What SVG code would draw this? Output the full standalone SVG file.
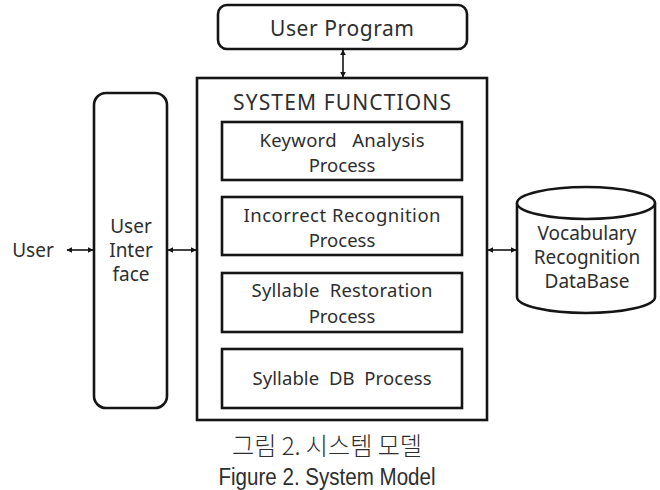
<svg xmlns="http://www.w3.org/2000/svg" width="660" height="490" viewBox="0 0 660 490">
<defs>
<style>
.box{fill:#fff;stroke:#151515;stroke-width:2.6}
.t{font-family:"Noto Sans","Liberation Sans",sans-serif;fill:#2e2e2e;text-anchor:middle;white-space:pre}
.c{stroke:#151515;stroke-width:1.6;fill:none;marker-start:url(#ah);marker-end:url(#ah)}
</style>
<marker id="ah" viewBox="0 0 10 10" refX="9" refY="5" markerWidth="6" markerHeight="6" orient="auto-start-reverse" markerUnits="userSpaceOnUse">
<path d="M0,0 L10,5 L0,10 z" fill="#151515"/>
</marker>
</defs>
<rect width="660" height="490" fill="#fff"/>

<g id="user">
<text class="t" x="33" y="257" font-size="19">User</text>
</g>

<g id="user-interface">
<rect class="box" x="94" y="93" width="73" height="315" rx="12"/>
<text class="t" x="131" y="233" font-size="19">User</text>
<text class="t" x="131" y="257" font-size="19">Inter</text>
<text class="t" x="131" y="281" font-size="19">face</text>
</g>

<g id="user-program">
<rect class="box" x="218" y="5" width="249" height="44" rx="9"/>
<text class="t" x="342" y="36" font-size="21" textLength="144">User Program</text>
</g>

<g id="system-functions">
<rect class="box" x="197" y="78" width="290" height="342"/>
<text class="t" x="342" y="110" font-size="21" textLength="218">SYSTEM FUNCTIONS</text>
</g>

<g id="keyword-analysis">
<rect class="box" x="222" y="122" width="240" height="58"/>
<text class="t" x="342" y="147" font-size="18.5" textLength="165" xml:space="preserve">Keyword   Analysis</text>
<text class="t" x="342" y="172" font-size="18.5">Process</text>
</g>

<g id="incorrect-recognition">
<rect class="box" x="222" y="197" width="240" height="58"/>
<text class="t" x="342" y="222" font-size="18.5" textLength="197">Incorrect Recognition</text>
<text class="t" x="342" y="247" font-size="18.5">Process</text>
</g>

<g id="syllable-restoration">
<rect class="box" x="222" y="273" width="240" height="59"/>
<text class="t" x="342" y="297" font-size="18.5" textLength="181" xml:space="preserve">Syllable  Restoration</text>
<text class="t" x="342" y="323" font-size="18.5">Process</text>
</g>

<g id="syllable-db">
<rect class="box" x="222" y="349" width="240" height="59"/>
<text class="t" x="342" y="385" font-size="18.5" textLength="179" xml:space="preserve">Syllable  DB  Process</text>
</g>

<g id="vocabulary-db">
<path class="box" d="M517,203 L517,297 A69,16 0 0 0 655,297 L655,203"/>
<ellipse class="box" cx="586" cy="203" rx="69" ry="16"/>
<text class="t" x="587" y="240" font-size="19">Vocabulary</text>
<text class="t" x="587" y="264" font-size="19">Recognition</text>
<text class="t" x="587" y="288" font-size="19">DataBase</text>
</g>

<g id="connectors">
<line class="c" x1="67" y1="250" x2="93" y2="250"/>
<line class="c" x1="168" y1="250" x2="196" y2="250"/>
<line class="c" x1="488" y1="250" x2="516" y2="250"/>
<line class="c" x1="343" y1="50" x2="343" y2="77"/>
</g>

<g id="caption">
<text class="t" x="327" y="455" font-size="25" textLength="190" lengthAdjust="spacingAndGlyphs" style="font-family:'Noto Sans CJK KR','Noto Sans',sans-serif;font-weight:300">그림 2. 시스템 모델</text>
<text class="t" x="327" y="485" font-size="23" textLength="217" lengthAdjust="spacingAndGlyphs" style="font-family:'Liberation Sans',Arial,sans-serif">Figure 2. System Model</text>
</g>
</svg>
